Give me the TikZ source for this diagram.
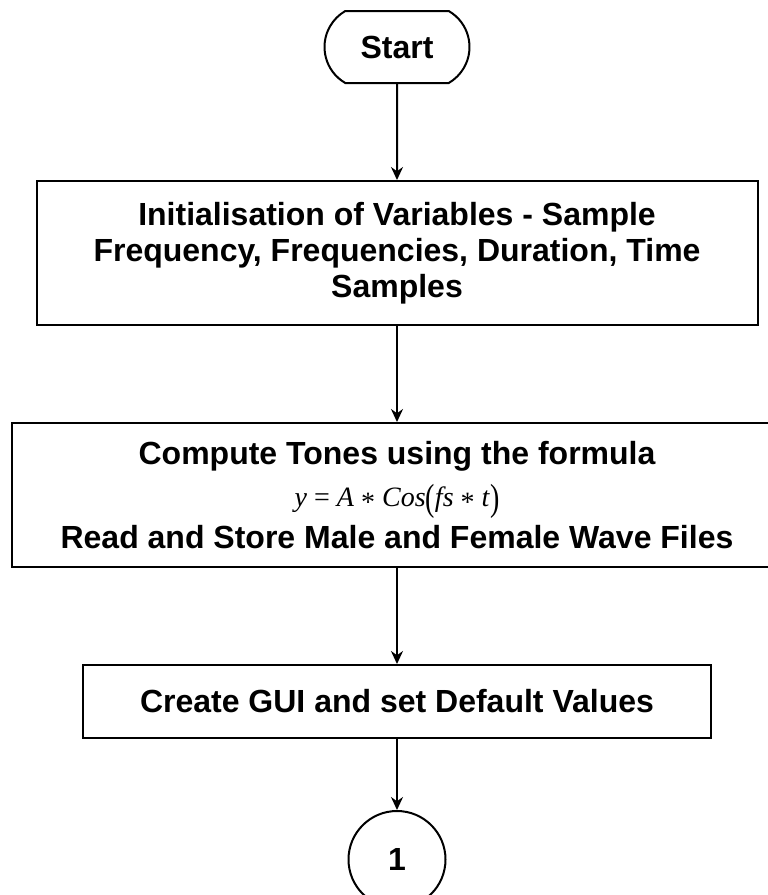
\documentclass[tikz,border=0pt]{standalone}
\usepackage{fontspec}
\setmainfont{Liberation Sans}
\newfontfamily\formfont{Liberation Serif}
\newcommand\opast{\raisebox{-5pt}{*}}
\newcommand\bigparen[1]{\raisebox{-4pt}{\scalebox{1}[1.35]{#1}}}
\usetikzlibrary{positioning,arrows.meta,shapes.misc}

\begin{document}
\begin{tikzpicture}[x=1pt,y=-1pt,node distance=96pt,
        every node/.style={draw, line width=2pt, align=center, inner sep=0pt,
            font=\fontsize{32}{36}\selectfont\bfseries},
        terminal/.style={rounded rectangle, rounded rectangle arc length=120,
            minimum width=145pt, minimum height=72pt},
        process/.style={rectangle, minimum height=144pt},
        connector/.style={circle, minimum size=97pt},
        flow/.style={line width=2pt, -{Stealth[length=13pt,width=12pt]}}]
    \useasboundingbox (0,0) rectangle (768,895);
    \node[terminal] (start) at (397,47) {Start};
    \node[process, minimum width=721pt, below=of start] (init)
        {Initialisation of Variables - Sample\\Frequency, Frequencies, Duration, Time\\Samples};
    \node[process, minimum width=770pt, below=of init] (tones)
        {Compute Tones using the formula\\[6pt]
         {\fontsize{28}{30}\selectfont\mdseries\formfont
          \textit{y} = \textit{A} \opast{} \textit{Cos}\bigparen{(}\textit{fs} \opast{} \textit{t}\bigparen{)}}\\[6pt]
         Read and Store Male and Female Wave Files};
    \node[process, minimum width=628pt, minimum height=73pt, below=of tones] (gui)
        {Create GUI and set Default Values};
    \node[connector, below=71pt of gui] (conn1) {1};
    \draw[flow] (start) -- (init);
    \draw[flow] (init) -- (tones);
    \draw[flow] (tones) -- (gui);
    \draw[flow] (gui) -- (conn1);
\end{tikzpicture}
\end{document}
